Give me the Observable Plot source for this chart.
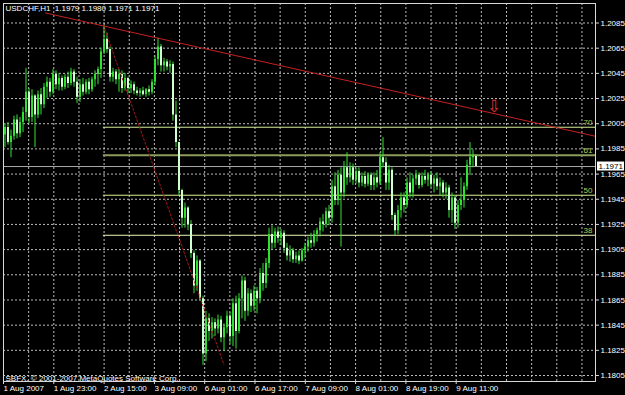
<!DOCTYPE html>
<html><head><meta charset="utf-8">
<script src="https://cdn.jsdelivr.net/npm/d3@7"></script>
<script src="https://cdn.jsdelivr.net/npm/@observablehq/plot@0.6"></script>
<style>html,body{margin:0;padding:0;background:#000;overflow:hidden;}</style>
</head><body><div id="chart"></div>
<script>
const headerText = "USDCHF,H1  1.1979 1.1980 1.1971 1.1971";
const footerText = "SBFX, © 2001-2007 MetaQuotes Software Corp.";

const opens = [1.1996,1.2002,1.1990,1.1995,1.2008,1.1997,1.2006,1.2014,1.2030,1.2010,
1.2027,1.2012,1.2028,1.2020,1.2034,1.2038,1.2030,1.2044,1.2036,1.2041,
1.2034,1.2042,1.2037,1.2046,1.2038,1.2026,1.2036,1.2030,1.2038,1.2032,
1.2040,1.2044,1.2048,1.2062,1.2072,1.2064,1.2042,1.2046,1.2040,1.2044,
1.2033,1.2041,1.2033,1.2036,1.2031,1.2029,1.2031,1.2028,1.2032,1.2030,
1.2038,1.2056,1.2066,1.2051,1.2054,1.2050,1.2052,1.2012,1.1990,1.1952,
1.1930,1.1938,1.1925,1.1902,1.1876,1.1896,1.1866,1.1822,1.1850,1.1840,
1.1847,1.1842,1.1849,1.1835,1.1843,1.1852,1.1836,1.1862,1.1840,1.1866,
1.1880,1.1856,1.1870,1.1860,1.1872,1.1866,1.1886,1.1878,1.1894,1.1917,
1.1910,1.1919,1.1914,1.1918,1.1906,1.1900,1.1904,1.1897,1.1900,1.1896,
1.1904,1.1907,1.1912,1.1910,1.1917,1.1920,1.1927,1.1925,1.1935,1.1930,
1.1955,1.1944,1.1964,1.1950,1.1970,1.1962,1.1970,1.1960,1.1967,1.1958,
1.1963,1.1957,1.1964,1.1956,1.1962,1.1958,1.1978,1.1974,1.1958,1.1968,
1.1932,1.1920,1.1936,1.1946,1.1940,1.1958,1.1950,1.1961,1.1964,1.1956,
1.1963,1.1960,1.1964,1.1957,1.1961,1.1955,1.1958,1.1950,1.1954,1.1936,
1.1946,1.1926,1.1940,1.1944,1.1955,1.1972,1.1978,1.1979];

const highs = [1.2005,1.2006,1.2000,1.2011,1.2012,1.2010,1.2018,1.2049,1.2033,1.2032,
1.2028,1.2031,1.2033,1.2037,1.2042,1.2041,1.2048,1.2047,1.2045,1.2043,
1.2044,1.2046,1.2049,1.2048,1.2042,1.2040,1.2041,1.2040,1.2041,1.2042,
1.2047,1.2050,1.2065,1.2083,1.2077,1.2066,1.2049,1.2048,1.2048,1.2047,
1.2045,1.2042,1.2039,1.2038,1.2034,1.2033,1.2034,1.2033,1.2035,1.2040,
1.2059,1.2073,1.2068,1.2057,1.2056,1.2055,1.2054,1.2023,1.1990,1.1953,
1.1942,1.1939,1.1928,1.1904,1.1900,1.1897,1.1868,1.1856,1.1854,1.1851,
1.1850,1.1853,1.1852,1.1846,1.1856,1.1855,1.1866,1.1868,1.1870,1.1884,
1.1883,1.1874,1.1873,1.1876,1.1875,1.1890,1.1894,1.1898,1.1922,1.1924,
1.1922,1.1923,1.1921,1.1920,1.1910,1.1908,1.1906,1.1903,1.1904,1.1906,
1.1910,1.1915,1.1918,1.1920,1.1922,1.1930,1.1933,1.1938,1.1940,1.1960,
1.1966,1.1968,1.1970,1.1975,1.1982,1.1974,1.1973,1.1970,1.1970,1.1966,
1.1967,1.1966,1.1966,1.1966,1.1968,1.1982,1.1994,1.1978,1.1972,1.1970,
1.1934,1.1940,1.1950,1.1950,1.1962,1.1966,1.1964,1.1968,1.1966,1.1966,
1.1968,1.1966,1.1967,1.1964,1.1966,1.1962,1.1960,1.1958,1.1956,1.1950,
1.1948,1.1944,1.1962,1.1958,1.1976,1.1990,1.1984,1.1980];

const lows = [1.1986,1.1988,1.1978,1.1992,1.1993,1.1994,1.1998,1.2007,1.2005,1.2006,
1.1986,1.2009,1.2012,1.2017,1.2025,1.2026,1.2028,1.2032,1.2031,1.2031,
1.2032,1.2033,1.2035,1.2034,1.2021,1.2022,1.2027,1.2028,1.2028,1.2030,
1.2034,1.2036,1.2041,1.2060,1.2061,1.2038,1.2038,1.2036,1.2030,1.2029,
1.2031,1.2029,1.2029,1.2028,1.2027,1.2026,1.2027,1.2026,1.2027,1.2028,
1.2035,1.2051,1.2046,1.2046,1.2047,1.2045,1.2007,1.1986,1.1948,1.1922,
1.1922,1.1920,1.1898,1.1870,1.1872,1.1864,1.1813,1.1816,1.1832,1.1834,
1.1836,1.1838,1.1831,1.1824,1.1838,1.1830,1.1828,1.1826,1.1838,1.1850,
1.1848,1.1852,1.1855,1.1856,1.1854,1.1862,1.1872,1.1874,1.1890,1.1905,
1.1906,1.1910,1.1908,1.1902,1.1896,1.1895,1.1894,1.1894,1.1893,1.1895,
1.1898,1.1903,1.1906,1.1907,1.1911,1.1915,1.1919,1.1922,1.1924,1.1926,
1.1940,1.1940,1.1907,1.1946,1.1956,1.1958,1.1956,1.1957,1.1954,1.1955,
1.1954,1.1955,1.1952,1.1952,1.1954,1.1956,1.1970,1.1952,1.1952,1.1928,
1.1916,1.1917,1.1930,1.1934,1.1938,1.1946,1.1946,1.1956,1.1953,1.1954,
1.1957,1.1955,1.1954,1.1950,1.1952,1.1948,1.1946,1.1945,1.1930,1.1926,
1.1921,1.1922,1.1936,1.1938,1.1952,1.1964,1.1970,1.1971];

const closes = [1.2002,1.1990,1.1995,1.2008,1.1997,1.2006,1.2014,1.2030,1.2010,1.2027,
1.2012,1.2028,1.2020,1.2034,1.2038,1.2030,1.2044,1.2036,1.2041,1.2034,
1.2042,1.2037,1.2046,1.2038,1.2026,1.2036,1.2030,1.2038,1.2032,1.2040,
1.2044,1.2048,1.2062,1.2072,1.2064,1.2042,1.2046,1.2040,1.2044,1.2033,
1.2041,1.2033,1.2036,1.2031,1.2029,1.2031,1.2028,1.2032,1.2030,1.2038,
1.2056,1.2066,1.2051,1.2054,1.2050,1.2052,1.2012,1.1990,1.1952,1.1930,
1.1938,1.1925,1.1902,1.1876,1.1896,1.1866,1.1822,1.1850,1.1840,1.1847,
1.1842,1.1849,1.1835,1.1843,1.1852,1.1836,1.1862,1.1840,1.1866,1.1880,
1.1856,1.1870,1.1860,1.1872,1.1866,1.1886,1.1878,1.1894,1.1917,1.1910,
1.1919,1.1914,1.1918,1.1906,1.1900,1.1904,1.1897,1.1900,1.1896,1.1904,
1.1907,1.1912,1.1910,1.1917,1.1920,1.1927,1.1925,1.1935,1.1930,1.1955,
1.1944,1.1964,1.1950,1.1970,1.1962,1.1970,1.1960,1.1967,1.1958,1.1963,
1.1957,1.1964,1.1956,1.1962,1.1958,1.1978,1.1974,1.1958,1.1968,1.1932,
1.1920,1.1936,1.1946,1.1940,1.1958,1.1950,1.1961,1.1964,1.1956,1.1963,
1.1960,1.1964,1.1957,1.1961,1.1955,1.1958,1.1950,1.1954,1.1936,1.1946,
1.1926,1.1940,1.1944,1.1955,1.1972,1.1978,1.1979,1.1971];

const yTicks = [1.1805,1.1825,1.1845,1.1865,1.1885,1.1905,1.1925,1.1945,1.1965,1.1985,1.2005,1.2025,1.2045,1.2065,1.2085];
const xTickLabels = ["1 Aug 2007","1 Aug 23:00","2 Aug 15:00","3 Aug 09:00","6 Aug 01:00","6 Aug 17:00","7 Aug 09:00","8 Aug 01:00","8 Aug 19:00","9 Aug 11:00"];

const fibLabels = ["38","50","61","70"];
const fibPrices = [1.19164,1.19482,1.19800,1.20022];
const fibColors = ["#eef7b8","#d8f08c","#8d9b5c","#d4ee98"];
const fibAnchorBars = [32.8, 73];
const fibAnchorPrices = [1.2083, 1.18135];

const trendBars = [13.5, 196.83];
const trendPrices = [1.2093, 1.1995];

const currentPrice = 1.1971;
const arrowBar = 163;
const arrowPrice = 1.2019;

// ---- build tables ----
const candles = closes.map((c, i) => ({i, open: opens[i], high: highs[i], low: lows[i], close: c}));
const fib = fibPrices.map((p, k) => ({price: p, label: fibLabels[k], color: fibColors[k]}));
const fibDiag = fibAnchorBars.map((b, k) => ({bar: b, price: fibAnchorPrices[k]}));
const trend = trendBars.map((b, k) => ({bar: b, price: trendPrices[k]}));

const W = 625, H = 395;
const mL = 3, mR = 30, mT = 3, mB = 14;
const pxPerBar = 3;
const x0 = -0.5, x1 = x0 + (W - mL - mR) / pxPerBar;
const gridStep = 25.15 / pxPerBar;
const gridBars = d3.range(1, 24).map(k => x0 + k * gridStep);
const labelBars = xTickLabels.map((_, k) => x0 + 2 * k * gridStep);

const y0 = 1.1805 - (H - mB - 375) / 12589;
const y1 = 1.1805 + (375 - mT) / 12589;

const bull = "#30e030", bear = "#d0ffd0", wick = "#36e036";

const plot = Plot.plot({
  width: W, height: H,
  marginLeft: mL, marginRight: mR, marginTop: mT, marginBottom: mB,
  style: {background: "#000", color: "#fff", fontFamily: "Liberation Sans, Arial, sans-serif", fontSize: "8px"},
  x: {type: "linear", domain: [x0, x1]},
  y: {type: "linear", domain: [y0, y1]},
  marks: [
    Plot.gridY(yTicks, {stroke: "#d0d0d0", strokeOpacity: 0.9, strokeDasharray: "2,2"}),
    Plot.gridX(gridBars, {stroke: "#d0d0d0", strokeOpacity: 0.9, strokeDasharray: "2,2"}),
    Plot.ruleY([currentPrice], {stroke: "#a8a8a8", strokeWidth: 1}),
    Plot.ruleY(fib, {y: "price", x1: fibAnchorBars[0], x2: x1, stroke: "color", strokeWidth: d => d.label === "61" ? 2 : 1}),
    Plot.text(fib, {y: "price", text: "label", frameAnchor: "right", textAnchor: "end", dx: -3, dy: -5, fill: "#b4d050", fontSize: 8}),
    Plot.ruleX(candles, {x: "i", y1: "low", y2: "high", stroke: wick, strokeWidth: 1}),
    Plot.ruleX(candles, {x: "i", y1: "open", y2: "close", stroke: d => d.close >= d.open ? bull : bear, strokeWidth: 2}),
    Plot.line(fibDiag, {x: "bar", y: "price", stroke: "#a81818", strokeWidth: 1, strokeDasharray: "2,2"}),
    Plot.line(trend, {x: "bar", y: "price", stroke: "#c82020", strokeWidth: 1}),
    Plot.text([{bar: arrowBar, price: arrowPrice}], {x: "bar", y: "price", text: () => "⇩", fill: "#e03030", fontSize: 17, fontFamily: "DejaVu Sans"}),
    Plot.text([headerText], {frameAnchor: "top-left", dx: 2, dy: 2, fill: "#fff", fontSize: 8}),
    Plot.text([footerText], {frameAnchor: "bottom-left", dx: 2, dy: -1, fill: "#fff", fontSize: 8}),
    Plot.frame({stroke: "#d8d8d8"}),
    Plot.axisY(yTicks, {anchor: "right", tickSize: 3, tickPadding: 2, tickFormat: d3.format(".4f"), stroke: "#d8d8d8", fill: "#fff", fontSize: 8}),
    Plot.axisX(labelBars, {anchor: "bottom", tickSize: 3, tickPadding: 1, tickFormat: (d, k) => xTickLabels[k], textAnchor: "start", dx: 0, stroke: "#d8d8d8", fill: "#fff", fontSize: 8})
  ]
});
document.getElementById("chart").appendChild(plot);

// current price tag on the right axis
const ys = plot.scale("y");
const yy = ys.apply(currentPrice);
const svg = d3.select(plot);
const tag = svg.append("g").attr("text-anchor", "start");
tag.append("rect").attr("x", W - mR + 2).attr("y", yy - 4.5).attr("width", 27).attr("height", 9).attr("fill", "#fff");
tag.append("text").attr("x", W - mR + 3.5).attr("y", yy).attr("dy", "0.35em").attr("fill", "#000").attr("font-size", 8).text(d3.format(".4f")(currentPrice));
</script>
</body></html>
